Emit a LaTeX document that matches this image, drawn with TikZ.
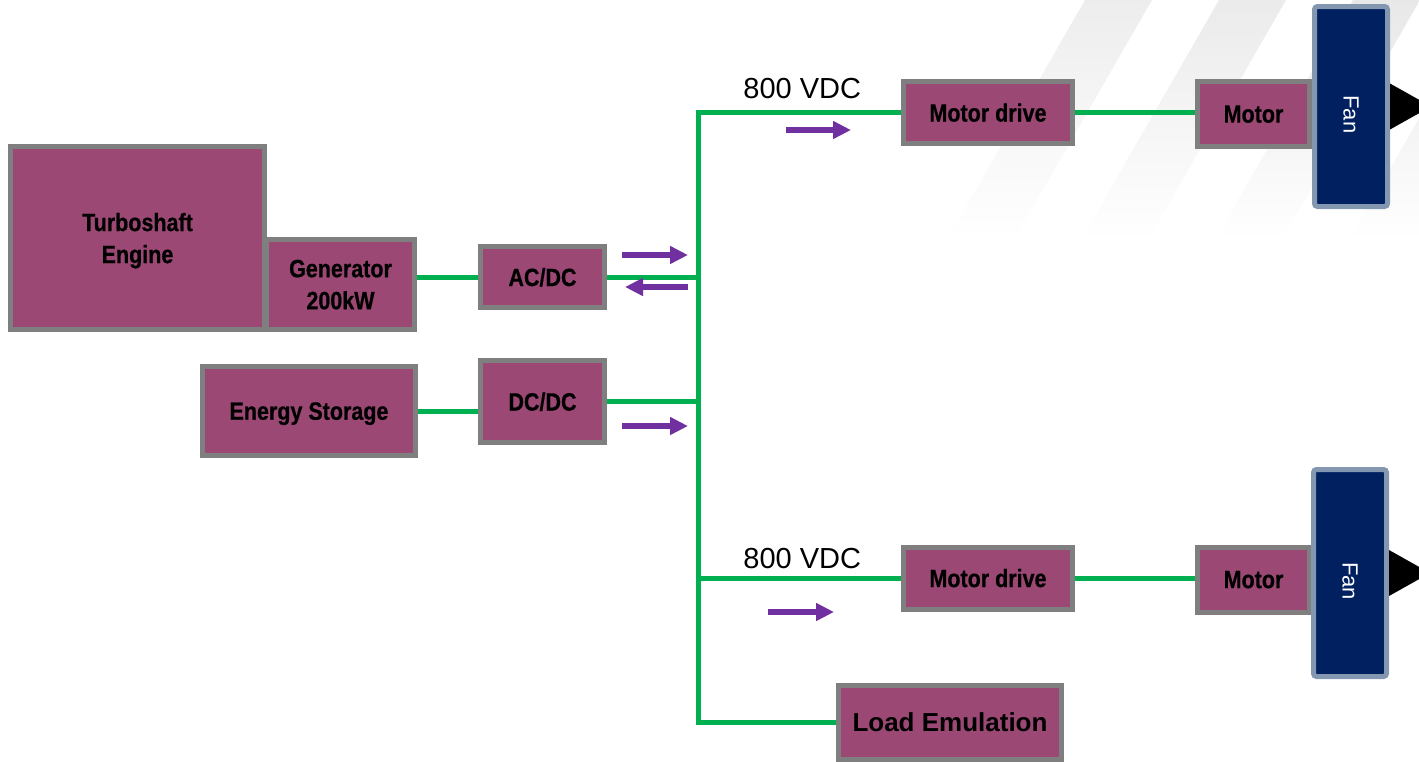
\documentclass[tikz,border=0pt]{standalone}
\usepackage{fontspec}
\setmainfont{Liberation Sans}
\newfontfamily\narrowsf[FakeStretch=0.86, BoldFeatures={FakeBold=0.6}]{Liberation Sans}
\usetikzlibrary{arrows.meta,positioning}

\definecolor{boxfill}{RGB}{155,72,116}
\definecolor{boxedge}{RGB}{127,127,127}
\definecolor{fanfill}{RGB}{0,32,96}
\definecolor{fanedge}{RGB}{132,151,176}
\definecolor{busgreen}{RGB}{0,176,80}
\definecolor{flowpurple}{RGB}{112,48,160}

\tikzset{
  blk/.style={draw=boxedge, line width=2.5pt, fill=boxfill, inner sep=0pt, align=center,
    text depth=0pt, font=\narrowsf\bfseries\fontsize{12.5}{16}\selectfont},
  fanbox/.style={draw=fanedge, line width=2.5pt, fill=fanfill, rounded corners=1.5pt,
    inner sep=0pt, text=white, font=\fontsize{11}{13}\selectfont, minimum width=36.5pt},
  bus/.style={busgreen, line width=2.5pt},
  flow/.style={flowpurple, line width=3pt, -{Triangle[length=9pt,width=8.5pt]}},
  vdc/.style={font=\fontsize{14.5}{17}\selectfont, anchor=base west, inner sep=0pt}
}

\begin{document}
\begin{tikzpicture}[x=0.5pt, y=-0.5pt]
\useasboundingbox (0,0) rectangle (1419,761);
\clip (0,0) rectangle (1419,761);

% Background stripes
\shade[top color=black!7, middle color=black!2, bottom color=white] (1085,0) -- (1152,0) -- (1014,240) -- (947,240) -- cycle;
\shade[top color=black!8, middle color=black!3, bottom color=white] (1219,0) -- (1286,0) -- (1148,240) -- (1081,240) -- cycle;
\shade[top color=black!9, middle color=black!3, bottom color=white] (1353,0) -- (1420,0) -- (1282,240) -- (1215,240) -- cycle;
\shade[top color=black!9, middle color=black!4, bottom color=white] (1487,0) -- (1554,0) -- (1416,240) -- (1349,240) -- cycle;

% Sources
\node[blk, minimum width=127pt, minimum height=91.5pt, text depth=-1pt] (engine) at (137.5,238) {Turboshaft\\Engine};
\node[blk, minimum width=74pt, minimum height=45pt] (gen) at (340.5,284.5) {Generator\\200kW};
\node[blk, minimum width=106.5pt, minimum height=44.5pt] (store) at (309,411) {Energy Storage};
\node[blk, minimum width=62pt, minimum height=30.5pt] (acdc) at (542.5,277) {AC/DC};
\node[blk, minimum width=62pt, minimum height=41pt] (dcdc) at (542.5,401.5) {DC/DC};

% Loads
\node[blk, minimum width=84.5pt, minimum height=31pt] (drive1) at (988,112.5) {Motor drive};
\node[blk, minimum width=56pt, minimum height=32.5pt, right=60pt of drive1, yshift=-0.75pt] (motor1) {Motor};
\node[fanbox, minimum height=100pt] (fan1) at (1351,106.5) {\rotatebox{-90}{\hspace*{8pt}Fan}};
\node[blk, minimum width=84.5pt, minimum height=31pt] (drive2) at (988,578) {Motor drive};
\node[blk, minimum width=56pt, minimum height=32.5pt, right=60pt of drive2, yshift=-0.75pt] (motor2) {Motor};
\node[fanbox, minimum height=103.5pt] (fan2) at (1350,573) {\rotatebox{-90}{\hspace*{8pt}Fan}};
\node[blk, font=\bfseries\fontsize{13}{15}\selectfont, minimum width=111.5pt, minimum height=37pt] (load) at (950,722.5) {Load Emulation};

% Thrust
\fill (fan1.east) ++(0,-23) -- ++(41,23) -- ++(-41,23) -- cycle;
\fill (fan2.east) ++(0,-23) -- ++(41,23) -- ++(-41,23) -- cycle;

% DC bus
\coordinate (bustop) at (698,112.5);
\coordinate (busbot) at (698,722.5);
\draw[bus] (drive1.west) -- (bustop) -- (busbot) -- (load.west);
\draw[bus] (acdc.east) -- (acdc.east -| bustop);
\draw[bus] (dcdc.east) -- (dcdc.east -| bustop);
\draw[bus] (drive2.west) -- (drive2.west -| bustop);
\draw[bus] (acdc.west) -- (acdc.west -| gen.east);
\draw[bus] (store.east) -- (store.east -| dcdc.west);
\draw[bus] (drive1.east) -- (drive1.east -| motor1.west);
\draw[bus] (drive2.east) -- (drive2.east -| motor2.west);

\node[vdc] (vdc1) at (743,98) {800 VDC};
\node[vdc] (vdc2) at (743,568) {800 VDC};

% Power flow
\draw[flow] (786,130) -- (851,130);
\draw[flow] (622,255) -- (688,255);
\draw[flow] (688,287) -- (625,287);
\draw[flow] (622,426) -- (688,426);
\draw[flow] (768,612) -- (834,612);

\end{tikzpicture}
\end{document}
